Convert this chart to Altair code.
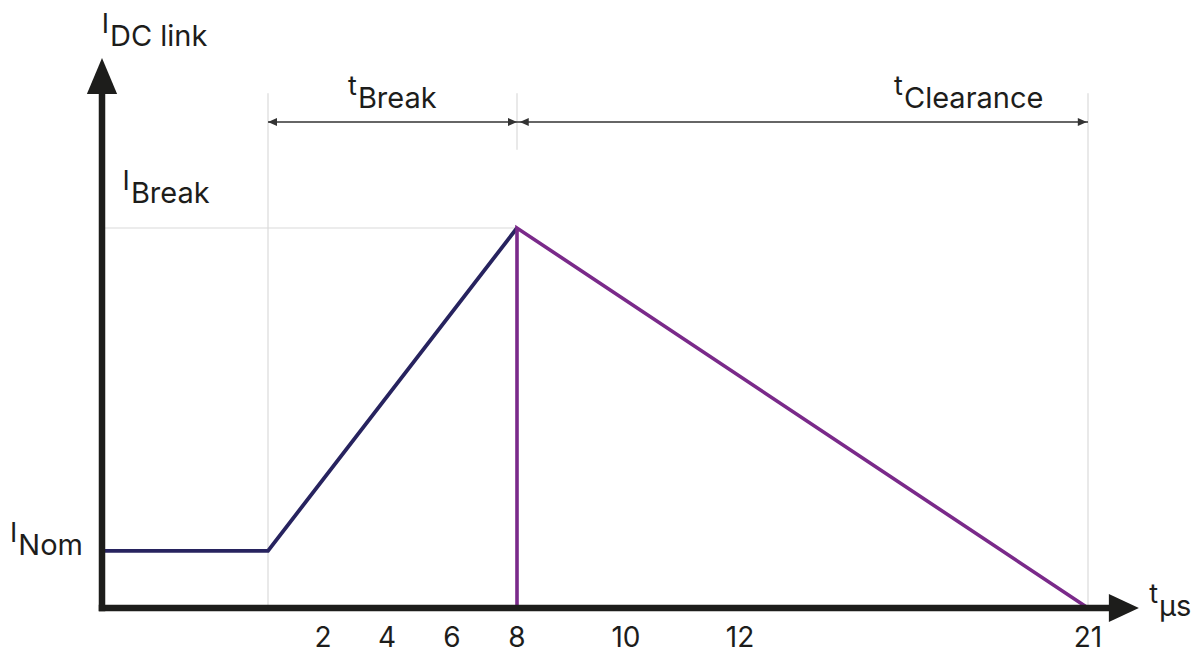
import altair as alt
import pandas as pd

# ---- values ----
tick_values = [2, 4, 6, 8, 10, 12, 21]      # labels on the time axis (µs)
ramp_t = [-5, 0, 8]                          # nominal current, then rise to the break current
ramp_i = [1.0, 1.0, 6.65]
decay_t = [8, 8, 21]                         # drop at break / decay during clearance
decay_i = [0.0, 6.65, 0.0]
t_origin = -5
t_break_start = 0
t_break_end = 8
t_clear_end = 21
i_break = 6.65

label_prefix = ["I", "I", "I", "t", "t", "t"]
label_main = ["DC link", "Break", "Nom", "Break", "Clearance", "µs"]

# schematic (non-uniform) time scale and current scale
x_domain = [-5, 0, 2, 4, 6, 8, 10, 12, 21, 23]
x_range = [94, 260, 315, 379, 444, 509, 618, 732, 1080, 1133]
xs = alt.Scale(domain=x_domain, range=x_range, nice=False, zero=False)
ys = alt.Scale(domain=[-0.875, 10.5], nice=False, zero=False)

NAVY = "#27235f"
PURPLE = "#7a2a8a"
GREY = "#dadada"
INK = "#1d1d1b"
FONT = "Inter"
FS = 29

def X(f="t"):
    return alt.X(f"{f}:Q", scale=xs, axis=None)

def Y(f="I"):
    return alt.Y(f"{f}:Q", scale=ys, axis=None)

# guide lines
vguides = pd.DataFrame({"t": [t_break_start, t_break_end, t_clear_end],
                        "I": [0.0, 8.02, 0.0], "I2": [9.01, 9.01, 9.01]})
hguide = pd.DataFrame({"t": [t_origin], "t2": [t_break_end], "I": [i_break]})

g1 = alt.Chart(vguides).mark_rule(color=GREY, strokeWidth=1.2).encode(
    x=X(), y=Y(), y2="I2:Q")
g2 = alt.Chart(hguide).mark_rule(color=GREY, strokeWidth=1.2).encode(
    x=X(), x2="t2:Q", y=Y())

# dimension arrows
dims = pd.DataFrame({"t": [t_break_start, t_break_end], "t2": [t_break_end, t_clear_end],
                     "I": [8.505, 8.505]})
dimline = alt.Chart(dims).mark_rule(color="#333333", strokeWidth=1.6).encode(
    x=X(), x2="t2:Q", y=Y())
tips_left = pd.DataFrame({"t": [t_break_start, 8.05], "I": [8.505, 8.505]})
tips_right = pd.DataFrame({"t": [t_break_end, 20.97], "I": [8.505, 8.505]})
al = alt.Chart(tips_left).mark_point(
    shape="M0,0L1,-0.45L1,0.45Z", size=324, filled=True, opacity=1,
    color="#333333", strokeWidth=0).encode(x=X(), y=Y())
ar = alt.Chart(tips_right).mark_point(
    shape="M0,0L-1,-0.45L-1,0.45Z", size=324, filled=True, opacity=1,
    color="#333333", strokeWidth=0).encode(x=X(), y=Y())

# data lines
ramp = pd.DataFrame({"t": ramp_t, "I": ramp_i, "k": range(len(ramp_t))})
decay = pd.DataFrame({"t": decay_t, "I": decay_i, "k": range(len(decay_t))})
l1 = alt.Chart(ramp).mark_line(color=NAVY, strokeWidth=3.8, strokeJoin="miter").encode(
    x=X(), y=Y(), order="k:O")
l2 = alt.Chart(decay).mark_line(color=PURPLE, strokeWidth=3.6, strokeJoin="miter").encode(
    x=X(), y=Y(), order="k:O")

# axes drawn as arrows
xaxis = pd.DataFrame({"t": [t_origin], "t2": [21.8], "I": [0.0]})
yaxis = pd.DataFrame({"t": [t_origin], "I": [0.0], "I2": [9.0]})
ax = alt.Chart(xaxis).mark_rule(color=INK, strokeWidth=6.5, strokeCap="square").encode(
    x=X(), x2="t2:Q", y=Y())
ay = alt.Chart(yaxis).mark_rule(color=INK, strokeWidth=6.5, strokeCap="square").encode(
    x=X(), y=Y(), y2="I2:Q")
up = alt.Chart(pd.DataFrame({"t": [t_origin], "I": [9.625]})).mark_point(
    shape="M0,0L-0.42,1L0.42,1Z", size=5184, filled=True, opacity=1,
    color=INK, strokeWidth=0).encode(x=X(), y=Y())
rt = alt.Chart(pd.DataFrame({"t": [22.92], "I": [0.0]})).mark_point(
    shape="M0,0L-1,-0.47L-1,0.47Z", size=3600, filled=True, opacity=1,
    color=INK, strokeWidth=0).encode(x=X(), y=Y())

# tick labels
ticks = pd.DataFrame({"t": tick_values, "lab": [str(v) for v in tick_values],
                      "I": [-0.69] * len(tick_values)})
tl = alt.Chart(ticks).mark_text(font=FONT, fontSize=FS - 1, color=INK,
                                baseline="alphabetic", align="center").encode(
    x=X(), y=Y(), text="lab:N")

# annotation labels (anchor = left edge / baseline of the main part)
labels = pd.DataFrame({
    "t": [-4.76, -4.13, -7.52, 3.09, 16.24, 23.68],
    "I": [9.84, 7.09, 0.93, 8.75, 8.75, -0.14],
    "prefix": label_prefix,
    "main": label_main,
})
tmain = alt.Chart(labels).mark_text(font=FONT, fontSize=FS, color=INK,
                                    baseline="alphabetic", align="left").encode(
    x=X(), y=Y(), text="main:N")
tpre = alt.Chart(labels).mark_text(font=FONT, fontSize=FS - 2, color=INK,
                                   baseline="alphabetic", align="right", dx=-1, dy=-13).encode(
    x=X(), y=Y(), text="prefix:N")

chart = alt.layer(g1, g2, dimline, al, ar, l1, l2, ax, ay, up, rt, tl, tmain, tpre).properties(
    width=1184, height=650, padding=0, autosize=alt.AutoSizeParams(type="none"),
    background="white",
).configure_view(stroke=None)

chart.save("out.html", embed_options={"renderer": "svg", "actions": False})
